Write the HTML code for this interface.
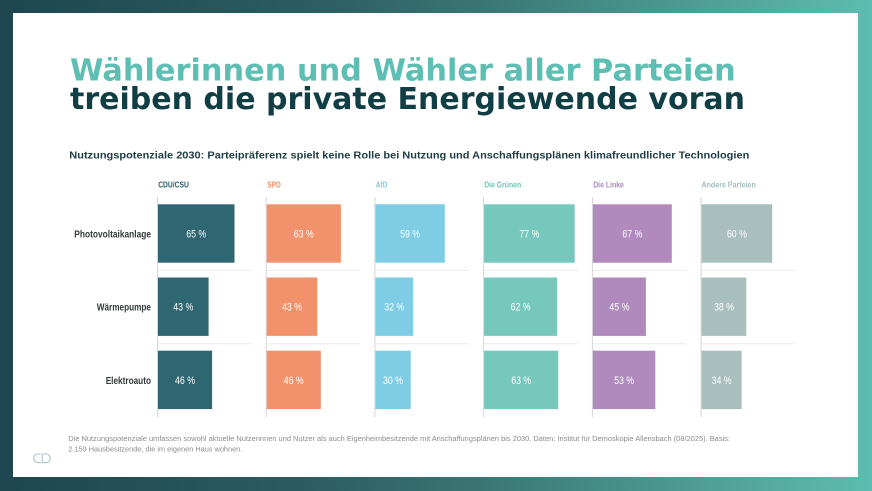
<!DOCTYPE html>
<html><head><meta charset="utf-8"><style>
html,body{margin:0;padding:0;width:872px;height:491px;overflow:hidden;background:#fff}
svg{display:block}
text{font-family:"Liberation Sans",sans-serif}
</style></head><body>
<svg width="872" height="491" viewBox="0 0 872 491" xmlns="http://www.w3.org/2000/svg">
<defs>
<linearGradient id="bg" x1="0" y1="0" x2="1" y2="0">
<stop offset="0" stop-color="#1d4650"/>
<stop offset="0.37" stop-color="#2c5e64"/>
<stop offset="0.55" stop-color="#3a7575"/>
<stop offset="0.89" stop-color="#56aba2"/>
<stop offset="1" stop-color="#5dbcb1"/>
</linearGradient>
</defs>
<rect x="0" y="0" width="872" height="491" fill="url(#bg)"/>
<rect x="13" y="13" width="845" height="464" fill="#ffffff"/>

<!-- Title -->
<text x="70" y="80.7" font-size="30" font-weight="bold" fill="#5dbfb3" style="font-family:'DejaVu Sans','Liberation Sans',sans-serif" textLength="665.7" lengthAdjust="spacingAndGlyphs">Wählerinnen und Wähler aller Parteien</text>
<text x="70" y="109" font-size="30" font-weight="bold" fill="#0f3f45" style="font-family:'DejaVu Sans','Liberation Sans',sans-serif" textLength="675" lengthAdjust="spacingAndGlyphs">treiben die private Energiewende voran</text>

<text x="69.3" y="158.3" font-size="10.5" font-weight="bold" fill="#1e3b41" textLength="680" lengthAdjust="spacingAndGlyphs">Nutzungspotenziale 2030: Parteipräferenz spielt keine Rolle bei Nutzung und Anschaffungsplänen klimafreundlicher Technologien</text>

<!-- Column headers -->
<g font-size="8" font-weight="bold">
<text x="158.2" y="187.5" fill="#2b5f6b" textLength="30.7" lengthAdjust="spacingAndGlyphs">CDU/CSU</text>
<text x="267.2" y="187.5" fill="#f0906a" textLength="13.6" lengthAdjust="spacingAndGlyphs">SPD</text>
<text x="375.8" y="187.5" fill="#7ccde3" textLength="11.7" lengthAdjust="spacingAndGlyphs">AfD</text>
<text x="484.2" y="187.5" fill="#6cc5b9" textLength="37" lengthAdjust="spacingAndGlyphs">Die Grünen</text>
<text x="593.2" y="187.5" fill="#a987bd" textLength="30.7" lengthAdjust="spacingAndGlyphs">Die Linke</text>
<text x="701.5" y="187.5" fill="#a6bcbc" textLength="54.3" lengthAdjust="spacingAndGlyphs">Andere Parteien</text>
</g>

<!-- Row labels -->
<g font-size="10.5" font-weight="bold" fill="#333a3c" text-anchor="end">
<text x="151" y="237.5" textLength="76.7" lengthAdjust="spacingAndGlyphs">Photovoltaikanlage</text>
<text x="151" y="310.6" textLength="54.3" lengthAdjust="spacingAndGlyphs">Wärmepumpe</text>
<text x="151" y="383.8" textLength="45.3" lengthAdjust="spacingAndGlyphs">Elektroauto</text>
</g>

<!-- separators -->
<g stroke="#ececec" stroke-width="1">
<line x1="157.7" y1="270.5" x2="251.7" y2="270.5"/><line x1="157.7" y1="343.8" x2="251.7" y2="343.8"/>
<line x1="266.4" y1="270.5" x2="360.4" y2="270.5"/><line x1="266.4" y1="343.8" x2="360.4" y2="343.8"/>
<line x1="375.1" y1="270.5" x2="469.1" y2="270.5"/><line x1="375.1" y1="343.8" x2="469.1" y2="343.8"/>
<line x1="483.8" y1="270.5" x2="577.8" y2="270.5"/><line x1="483.8" y1="343.8" x2="577.8" y2="343.8"/>
<line x1="592.6" y1="270.5" x2="686.6" y2="270.5"/><line x1="592.6" y1="343.8" x2="686.6" y2="343.8"/>
<line x1="701.3" y1="270.5" x2="795.3" y2="270.5"/><line x1="701.3" y1="343.8" x2="795.3" y2="343.8"/>
</g>

<!-- axis lines -->
<g stroke="#d6d6d6" stroke-width="1">
<line x1="157.5" y1="197" x2="157.5" y2="417"/>
<line x1="266.2" y1="197" x2="266.2" y2="417"/>
<line x1="374.9" y1="197" x2="374.9" y2="417"/>
<line x1="483.6" y1="197" x2="483.6" y2="417"/>
<line x1="592.4" y1="197" x2="592.4" y2="417"/>
<line x1="701.1" y1="197" x2="701.1" y2="417"/>
</g>

<!-- Bars -->
<g fill="#2e6672">
<rect x="158" y="204.3" width="76.5" height="58.4"/>
<rect x="158" y="277.5" width="50.6" height="58.4"/>
<rect x="158" y="350.7" width="54.1" height="58.4"/>
</g>
<g fill="#f2926c">
<rect x="266.7" y="204.3" width="74.2" height="58.4"/>
<rect x="266.7" y="277.5" width="50.6" height="58.4"/>
<rect x="266.7" y="350.7" width="54.1" height="58.4"/>
</g>
<g fill="#7ecde4">
<rect x="375.4" y="204.3" width="69.4" height="58.4"/>
<rect x="375.4" y="277.5" width="37.7" height="58.4"/>
<rect x="375.4" y="350.7" width="35.3" height="58.4"/>
</g>
<g fill="#76c8bc">
<rect x="484.1" y="204.3" width="90.6" height="58.4"/>
<rect x="484.1" y="277.5" width="73" height="58.4"/>
<rect x="484.1" y="350.7" width="74.2" height="58.4"/>
</g>
<g fill="#b08abd">
<rect x="592.9" y="204.3" width="78.9" height="58.4"/>
<rect x="592.9" y="277.5" width="53" height="58.4"/>
<rect x="592.9" y="350.7" width="62.4" height="58.4"/>
</g>
<g fill="#a9bfbe">
<rect x="701.6" y="204.3" width="70.6" height="58.4"/>
<rect x="701.6" y="277.5" width="44.7" height="58.4"/>
<rect x="701.6" y="350.7" width="40" height="58.4"/>
</g>

<!-- Value labels -->
<g font-size="11" fill="#ffffff" text-anchor="middle">
<text x="196.2" y="237.5" textLength="20" lengthAdjust="spacingAndGlyphs">65 %</text>
<text x="183.3" y="310.7" textLength="20" lengthAdjust="spacingAndGlyphs">43 %</text>
<text x="185" y="383.9" textLength="20" lengthAdjust="spacingAndGlyphs">46 %</text>

<text x="303.8" y="237.5" textLength="20" lengthAdjust="spacingAndGlyphs">63 %</text>
<text x="292" y="310.7" textLength="20" lengthAdjust="spacingAndGlyphs">43 %</text>
<text x="293.7" y="383.9" textLength="20" lengthAdjust="spacingAndGlyphs">46 %</text>

<text x="410.1" y="237.5" textLength="20" lengthAdjust="spacingAndGlyphs">59 %</text>
<text x="394.2" y="310.7" textLength="20" lengthAdjust="spacingAndGlyphs">32 %</text>
<text x="393" y="383.9" textLength="20" lengthAdjust="spacingAndGlyphs">30 %</text>

<text x="529.4" y="237.5" textLength="20" lengthAdjust="spacingAndGlyphs">77 %</text>
<text x="520.6" y="310.7" textLength="20" lengthAdjust="spacingAndGlyphs">62 %</text>
<text x="521.2" y="383.9" textLength="20" lengthAdjust="spacingAndGlyphs">63 %</text>

<text x="632.4" y="237.5" textLength="20" lengthAdjust="spacingAndGlyphs">67 %</text>
<text x="619.4" y="310.7" textLength="20" lengthAdjust="spacingAndGlyphs">45 %</text>
<text x="624.1" y="383.9" textLength="20" lengthAdjust="spacingAndGlyphs">53 %</text>

<text x="736.9" y="237.5" textLength="20" lengthAdjust="spacingAndGlyphs">60 %</text>
<text x="724" y="310.7" textLength="20" lengthAdjust="spacingAndGlyphs">38 %</text>
<text x="721.6" y="383.9" textLength="20" lengthAdjust="spacingAndGlyphs">34 %</text>
</g>

<!-- Footnote -->
<g font-size="7" fill="#8c8c8c">
<text x="68.3" y="441" textLength="661.7" lengthAdjust="spacingAndGlyphs">Die Nutzungspotenziale umfassen sowohl aktuelle Nutzerinnen und Nutzer als auch Eigenheimbesitzende mit Anschaffungsplänen bis 2030. Daten: Institut für Demoskopie Allensbach (08/2025). Basis:</text>
<text x="68.3" y="451.7" textLength="174" lengthAdjust="spacingAndGlyphs">2.159 Hausbesitzende, die im eigenen Haus wohnen.</text>
</g>

<!-- Logo -->
<g fill="none" stroke="#a9c6c6" stroke-width="1.1">
<path d="M40.8 454 H37.5 A4 4.3 0 0 0 33.7 458.3 A4 4.3 0 0 0 37.5 462.6 H40.8"/>
<path d="M42.3 454 H46.3 A4 4.3 0 0 1 50.3 458.3 A4 4.3 0 0 1 46.3 462.6 H42.3 Z"/>
</g>
</svg>
</body></html>
